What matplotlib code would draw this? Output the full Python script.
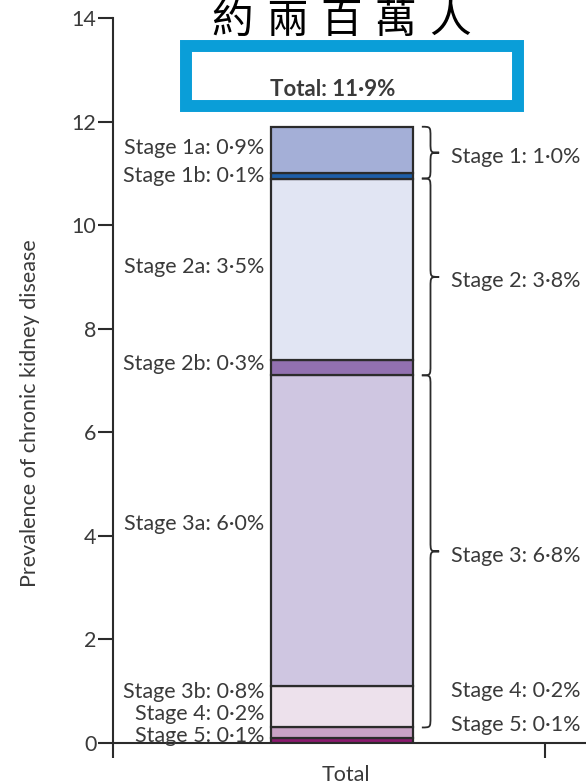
import matplotlib
matplotlib.use("Agg")
import matplotlib.pyplot as plt
from matplotlib.path import Path
from matplotlib.patches import PathPatch, Rectangle
import numpy as np

plt.rcParams['font.family'] = ['Lato', 'DejaVu Sans']

# ---------------- data ----------------
stages = ["Stage 5", "Stage 4", "Stage 3b", "Stage 3a", "Stage 2b", "Stage 2a", "Stage 1b", "Stage 1a"]
values = [0.1, 0.2, 0.8, 6.0, 0.3, 3.5, 0.1, 0.9]
colors = ["#8c1a6f", "#c9a2c6", "#ede1ec", "#cfc6e1", "#9271b0", "#e1e5f3", "#1e5ea8", "#a4afd7"]
group_names = ["Stage 1", "Stage 2", "Stage 3", "Stage 4", "Stage 5"]
group_values = [1.0, 3.8, 6.8, 0.2, 0.1]
group_members = [["Stage 1a", "Stage 1b"], ["Stage 2a", "Stage 2b"], ["Stage 3a", "Stage 3b"], ["Stage 4"], ["Stage 5"]]
total_value = 11.9
category = "Total"
title = "約兩百萬人"
ylabel = "Prevalence of chronic kidney disease"
yticks = [0, 2, 4, 6, 8, 10, 12, 14]

def fmt(v):
    return f"{v:.1f}".replace(".", "\u00b7") + "%"

# ---------------- layout ----------------
W, H = 586, 784
fig = plt.figure(figsize=(W / 100, H / 100), dpi=100)
ax = fig.add_axes([113 / W, 1 - 743 / H, (586 - 113) / W, (743 - 18) / H])
ax.set_ylim(0, 14)
ax.set_xlim(0, 1.095)

tc = "#3a3a3a"
fs = 15.5
bar_x = 0.53
bar_w = 0.33

bottoms = np.concatenate([[0], np.cumsum(values)[:-1]])
for s, v, b, c in zip(stages, values, bottoms, colors):
    ax.bar(bar_x, v, bottom=b, width=bar_w, color=c, edgecolor="#2b2b2b", linewidth=1.6, zorder=3)

# left labels (label y offsets are layout positions)
left_label_y = {"Stage 1a": 11.49, "Stage 1b": 10.95, "Stage 2a": 9.19, "Stage 2b": 7.32,
                "Stage 3a": 4.23, "Stage 3b": 0.98, "Stage 4": 0.56, "Stage 5": 0.14}
for s, v in zip(stages, values):
    ax.text(bar_x - bar_w / 2 - 0.015, left_label_y[s], f"{s}: {fmt(v)}", ha="right", va="center",
            fontsize=fs, color=tc)

# braces + right labels
cum = dict()
for s, v, b in zip(stages, values, bottoms):
    cum[s] = (b, b + v)

def brace(ax, y0, y1, x0, w, r):
    xm = x0 + w / 2
    xt = x0 + w
    ym = (y0 + y1) / 2
    verts = [(x0, y1), (xm, y1), (xm, y1), (xm, y1 - r),
             (xm, ym + r),
             (xm, ym), (xm, ym), (xt, ym),
             (xm, ym), (xm, ym), (xm, ym - r),
             (xm, y0 + r),
             (xm, y0), (xm, y0), (x0, y0)]
    codes = [Path.MOVETO, Path.CURVE4, Path.CURVE4, Path.CURVE4,
             Path.LINETO,
             Path.CURVE4, Path.CURVE4, Path.CURVE4,
             Path.CURVE4, Path.CURVE4, Path.CURVE4,
             Path.LINETO,
             Path.CURVE4, Path.CURVE4, Path.CURVE4]
    ax.add_patch(PathPatch(Path(verts, codes), fill=False, edgecolor="#2b2b2b", lw=1.3, zorder=3))

right_label_y = {"Stage 4": 1.0, "Stage 5": 0.35}
bx0 = bar_x + bar_w / 2 + 0.02
for g, gv, mem in zip(group_names, group_values, group_members):
    lo = min(cum[m][0] for m in mem)
    hi = max(cum[m][1] for m in mem)
    if len(mem) > 1:
        r = min(0.2, (hi - lo) / 4)
        brace(ax, lo, hi, bx0, 0.04, r)
        ty = (lo + hi) / 2 - 0.08
    else:
        ty = right_label_y[g]
    ax.text(bx0 + 0.068, ty, f"{g}: {fmt(gv)}", ha="left", va="center", fontsize=fs, color=tc)

# axes styling
for sp in ["top", "right"]:
    ax.spines[sp].set_visible(False)
for sp in ["left", "bottom"]:
    ax.spines[sp].set_color("#2b2b2b")
    ax.spines[sp].set_linewidth(1.5)
ax.set_yticks(yticks)
ax.set_yticklabels([str(t) for t in yticks])
ax.tick_params(axis="y", direction="out", length=11, width=1.5, color="#2b2b2b",
               labelsize=fs, labelcolor=tc, pad=1)
ax.set_xticks([bar_x + 0.01])
ax.set_xticklabels([category])
ax.tick_params(axis="x", which="major", length=0, labelsize=fs, labelcolor=tc, pad=16)
ax.set_xticks([0, 1], minor=True)
ax.tick_params(axis="x", which="minor", direction="out", length=11, width=1.5, color="#2b2b2b")
ax.set_ylabel(ylabel, fontsize=fs, color=tc)
ax.yaxis.set_label_coords(-0.155, 0.455)

# blue box with total
fig.patches.append(Rectangle((185.5 / W, 1 - 106 / H), (517.5 - 185.5) / W, (106 - 46) / H,
                             transform=fig.transFigure, fill=False, edgecolor="#0a9ed8", lw=8.6))
fig.text(333 / W, 1 - 89 / H, f"Total: {fmt(total_value)}", ha="center", va="center",
         fontsize=16, fontweight="bold", color=tc)

# title, characters spaced as in the reference
for i, ch in enumerate(title):
    fig.text((232 + 54.5 * i) / W, 1 - 1 / H, ch, ha="center", va="top", fontsize=30,
             family=["Noto Sans CJK TC", "DejaVu Sans"], color="black")

fig.savefig("out.png", dpi=100)
